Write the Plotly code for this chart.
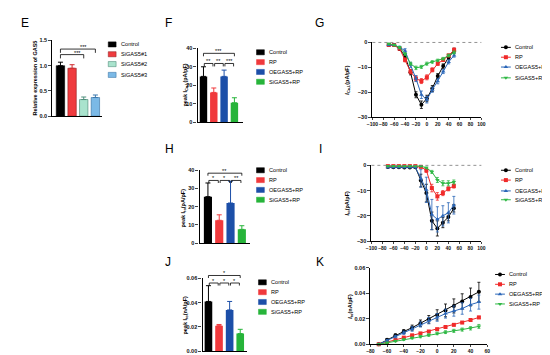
import plotly.graph_objects as go

W, H = 550, 355
FONT = "Liberation Sans, Arial, sans-serif"

# ---------------- data ----------------
groups_E = ["Control", "SiGAS5#1", "SiGAS5#2", "SiGAS5#3"]
expr_E = [1.0, 0.95, 0.33, 0.37]
err_E = [0.07, 0.07, 0.05, 0.05]

groups = ["Control", "RP", "OEGAS5+RP", "SiGAS5+RP"]
peak_F = [24.8, 16.1, 24.8, 10.5]
err_F = [5.2, 2.4, 3.4, 2.7]
peak_H = [25.5, 12.5, 22.0, 7.5]
err_H = [7.5, 3.0, 12.0, 2.0]
peak_J = [0.041, 0.021, 0.034, 0.0145]
err_J = [0.013, 0.001, 0.007, 0.0035]

V = [-70, -60, -50, -40, -30, -20, -10, 0, 10, 20, 30, 40, 50]

G_ctrl = [-1.0, -1.0, -2.6, -5.6, -12.0, -21.0, -25.0, -22.5, -18.5, -13.5, -9.5, -6.0, -3.3]
G_rp = [-1.0, -1.0, -2.5, -7.0, -11.7, -14.5, -15.5, -14.0, -11.0, -8.5, -7.0, -5.2, -3.0]
G_oe = [-1.0, -1.0, -2.0, -3.3, -9.0, -14.5, -21.0, -23.0, -19.0, -15.6, -11.7, -7.8, -5.2]
G_si = [-0.5, -1.0, -2.0, -4.6, -8.5, -10.2, -9.8, -8.5, -7.8, -7.2, -6.5, -5.2, -4.0]
G_ctrl_e = [0.4, 0.4, 0.5, 0.8, 1.0, 1.2, 1.5, 1.3, 1.2, 1.0, 0.9, 0.8, 1.0]
G_rp_e = [0.3, 0.3, 0.4, 0.8, 0.9, 1.0, 1.0, 1.0, 0.8, 0.7, 0.6, 0.5, 0.8]
G_oe_e = [0.3, 0.3, 0.5, 0.8, 1.0, 1.2, 1.5, 1.3, 1.0, 1.0, 0.8, 0.8, 0.7]
G_si_e = [0.3, 0.3, 0.4, 0.5, 0.6, 0.7, 0.6, 0.6, 0.5, 0.5, 0.5, 0.5, 0.6]

I_ctrl = [-0.7, -0.8, -0.8, -0.9, -0.9, -0.8, -6.0, -11.0, -22.0, -25.0, -22.7, -20.5, -17.0]
I_rp = [-0.3, -0.3, -0.3, -0.3, -0.3, -0.3, -0.6, -2.0, -9.0, -12.3, -11.0, -9.3, -8.2]
I_oe = [-0.8, -0.8, -0.8, -0.8, -0.8, -0.8, -5.2, -9.7, -19.5, -21.4, -20.0, -18.8, -15.8]
I_si = [-0.3, -0.3, -0.3, -0.3, -0.3, -0.3, -0.3, -1.0, -2.6, -5.8, -7.1, -7.1, -6.6]
I_ctrl_e = [0.2, 0.2, 0.2, 0.2, 0.2, 0.2, 2.5, 3.5, 3.5, 3.0, 2.0, 1.5, 1.5]
I_rp_e = [0.1, 0.1, 0.1, 0.1, 0.1, 0.1, 0.3, 0.8, 1.5, 1.5, 1.0, 0.8, 0.8]
I_oe_e = [0.2, 0.2, 0.2, 0.2, 0.2, 0.2, 3.5, 5.0, 6.0, 5.0, 4.0, 4.0, 3.5]
I_si_e = [0.1, 0.1, 0.1, 0.1, 0.1, 0.1, 0.1, 0.3, 0.6, 1.0, 1.0, 1.0, 0.8]

K_ctrl = [0.0, 0.0035, 0.007, 0.010, 0.013, 0.0165, 0.0195, 0.023, 0.0265, 0.030, 0.0335, 0.037, 0.041]
K_rp = [0.0, 0.0017, 0.0035, 0.0052, 0.007, 0.0085, 0.010, 0.0118, 0.0135, 0.0152, 0.017, 0.019, 0.021]
K_oe = [0.0, 0.003, 0.006, 0.009, 0.012, 0.0155, 0.0185, 0.021, 0.024, 0.026, 0.028, 0.031, 0.033]
K_si = [0.0, 0.0012, 0.0025, 0.0037, 0.005, 0.006, 0.0072, 0.0085, 0.0095, 0.0105, 0.0115, 0.0125, 0.014]
K_ctrl_e = [0.0005, 0.0008, 0.001, 0.0015, 0.002, 0.0025, 0.003, 0.004, 0.005, 0.0055, 0.006, 0.007, 0.0075]
K_rp_e = [0.0003, 0.0004, 0.0005, 0.0005, 0.0006, 0.0006, 0.0006, 0.0007, 0.0007, 0.0007, 0.0008, 0.0008, 0.0009]
K_oe_e = [0.0005, 0.0007, 0.001, 0.0013, 0.0018, 0.002, 0.0025, 0.003, 0.0035, 0.004, 0.0045, 0.005, 0.0055]
K_si_e = [0.0003, 0.0005, 0.0006, 0.0007, 0.0008, 0.0009, 0.001, 0.001, 0.0011, 0.0012, 0.0012, 0.0013, 0.0015]

sig_E = [(0, 2, 1.22, "***"), (0, 3, 1.33, "***")]
sig_F = [(0, 3, 37.3, "***"), (0, 1, 31.8, "**"), (1, 2, 31.8, "**"), (2, 3, 31.8, "***")]
sig_H = [(0, 3, 38.4, "**"), (0, 1, 34.4, "*"), (1, 2, 34.4, "*"), (2, 3, 34.4, "**")]
sig_J = [(0, 3, 0.0624, "*"), (0, 1, 0.0562, "*"), (1, 2, 0.0562, "*"), (2, 3, 0.0562, "*")]

colors_E = ["#000000", "#ef3b3e", "#a9e3cd", "#7bb9e6"]
err_col_E = ["#000000", "#d02a2e", "#4f8f7c", "#3b78ad"]
outline_E = ["#000000", "#8a1c1e", "#3f7f6c", "#2f6a9c"]
colors_bar = ["#000000", "#f0393c", "#1c4fa8", "#27b43a"]
colors_line = ["#000000", "#f02a2a", "#2a66b8", "#2fb845"]
symbols = ["circle", "square", "triangle-up", "triangle-down"]

# ---------------- panel geometry (pixels) ----------------
P = {
    "E": (1, 39, 90, 30, 107, [-0.7, 3.6], [0, 1.5]),
    "F": (2, 187, 233, 38, 113, [-0.57, 3.81], [0, 40]),
    "G": (3, 365, 476, 32, 108, [-100, 100], [-30, 0]),
    "H": (4, 189, 240, 162, 236, [-0.74, 3.69], [0, 40]),
    "I": (5, 364, 476, 157, 234, [-100, 100], [-30, 0]),
    "J": (6, 192, 237, 272, 346, [-0.56, 3.61], [0, 0.06]),
    "K": (7, 363, 482, 261, 339, [-80, 60], [0, 0.06]),
}


def px_x(p, xv):
    _, a, b, _, _, xr, _ = P[p]
    return (a + (xv - xr[0]) / (xr[1] - xr[0]) * (b - a)) / W


def px_y(p, yv):
    _, _, _, t, bt, _, yr = P[p]
    return 1 - (bt - (yv - yr[0]) / (yr[1] - yr[0]) * (bt - t)) / H


fig = go.Figure()
layout = dict(width=W, height=H, margin=dict(l=0, r=0, t=0, b=0),
              paper_bgcolor="white", plot_bgcolor="rgba(0,0,0,0)",
              showlegend=False, font=dict(family=FONT, size=6, color="#000"))
shapes, annos = [], []

TICKF = dict(family=FONT, size=5.5, color="#111", weight="bold")
TICKX = dict(family=FONT, size=5, color="#111", weight="bold")

for name, (k, a, b, t, bt, xr, yr) in P.items():
    xa = dict(domain=[a / W, b / W], range=xr, showgrid=False, zeroline=False,
              showline=True, linecolor="#000", anchor="y%d" % k, fixedrange=True, tickangle=0)
    ya = dict(domain=[1 - bt / H, 1 - t / H], range=yr, showgrid=False, zeroline=False,
              showline=True, linecolor="#000", anchor="x%d" % k, ticks="outside",
              ticklen=3, tickwidth=1, tickfont=TICKF, fixedrange=True, tickangle=0)
    if name in ("E", "F", "H", "J"):
        xa.update(type="category", showticklabels=False, ticks="", linewidth=1.3)
        ya.update(linewidth=1.3)
    else:
        xa.update(ticks="outside", ticklen=2, tickwidth=1, tickfont=TICKX, linewidth=1.1)
        ya.update(linewidth=1.1)
    layout["xaxis%d" % k if k > 1 else "xaxis"] = xa
    layout["yaxis%d" % k if k > 1 else "yaxis"] = ya

layout["yaxis"].update(tickvals=[0, 0.5, 1.0, 1.5], tickformat=".1f")
layout["yaxis2"].update(tickvals=[0, 10, 20, 30, 40])
layout["yaxis4"].update(tickvals=[0, 10, 20, 30, 40])
layout["yaxis6"].update(tickvals=[0, 0.02, 0.04, 0.06], tickformat=".2f")
layout["xaxis3"].update(tickvals=list(range(-100, 101, 20)))
layout["xaxis5"].update(tickvals=list(range(-100, 101, 20)))
layout["yaxis3"].update(tickvals=[0, -10, -20, -30])
layout["yaxis5"].update(tickvals=[0, -10, -20, -30])
layout["xaxis7"].update(tickvals=list(range(-80, 61, 20)))
layout["yaxis7"].update(tickvals=[0, 0.02, 0.04, 0.06], tickformat=".2f")


# ---------------- bars ----------------
def add_bars(k, cats, vals, errs, cols, ecols, outline):
    for i in range(4):
        fig.add_trace(go.Bar(
            x=[cats[i]], y=[vals[i]], width=0.72, xaxis="x%d" % k if k > 1 else "x",
            yaxis="y%d" % k if k > 1 else "y",
            marker=dict(color=cols[i], line=dict(color=outline[i] or cols[i], width=0.6 if outline[i] else 0)),
            error_y=dict(type="data", array=[errs[i]], arrayminus=[0], symmetric=False,
                         color=ecols[i], thickness=1, width=2.5),
            cliponaxis=False, hoverinfo="skip"))


add_bars(1, groups_E, expr_E, err_E, colors_E, err_col_E, outline_E)
add_bars(2, groups, peak_F, err_F, colors_bar, colors_bar, [None] * 4)
add_bars(4, groups, peak_H, err_H, colors_bar, colors_bar, [None] * 4)
add_bars(6, groups, peak_J, err_J, colors_bar, colors_bar, [None] * 4)


# ---------------- lines ----------------
def add_lines(k, ys, es):
    for i in range(4):
        fig.add_trace(go.Scatter(
            x=V, y=ys[i], mode="lines+markers", xaxis="x%d" % k, yaxis="y%d" % k,
            line=dict(color=colors_line[i], width=1),
            marker=dict(symbol=symbols[i], size=4, color=colors_line[i]),
            error_y=dict(type="data", array=es[i], color=colors_line[i], thickness=0.8, width=1.5),
            cliponaxis=False, hoverinfo="skip"))


add_lines(3, [G_ctrl, G_rp, G_oe, G_si], [G_ctrl_e, G_rp_e, G_oe_e, G_si_e])
add_lines(5, [I_ctrl, I_rp, I_oe, I_si], [I_ctrl_e, I_rp_e, I_oe_e, I_si_e])
add_lines(7, [K_ctrl, K_rp, K_oe, K_si], [K_ctrl_e, K_rp_e, K_oe_e, K_si_e])

# zero dotted lines for G and I
for k in (3, 5):
    shapes.append(dict(type="line", xref="x%d domain" % k, yref="y%d domain" % k,
                       x0=0, x1=1, y0=1, y1=1, line=dict(color="#777", width=0.8, dash="dot")))


# ---------------- significance brackets ----------------
def add_sig(p, sig, drop):
    yr = P[p][6]
    d = drop * (yr[1] - yr[0])
    for (i, j, y, txt) in sig:
        inset = 0.08 if j - i == 1 else 0.0
        x0, x1 = px_x(p, i + inset), px_x(p, j - inset)
        yy, yd = px_y(p, y), px_y(p, y - d)
        shapes.append(dict(type="path", xref="paper", yref="paper",
                           path="M%f,%f L%f,%f L%f,%f L%f,%f" % (x0, yd, x0, yy, x1, yy, x1, yd),
                           line=dict(color="#000", width=0.8)))
        annos.append(dict(x=(x0 + x1) / 2, y=yy, xref="paper", yref="paper", text=txt,
                          showarrow=False, yanchor="bottom", yshift=-3,
                          font=dict(family=FONT, size=5.5, color="#000")))


add_sig("E", sig_E, 0.05)
add_sig("F", sig_F, 0.04)
add_sig("H", sig_H, 0.035)
add_sig("J", sig_J, 0.035)


# ---------------- manual legends ----------------
def bar_legend(x0, rows, labels, cols, outline=None):
    for i, (lab, c) in enumerate(zip(labels, cols)):
        yc = rows[i]
        shapes.append(dict(type="rect", xref="paper", yref="paper",
                           x0=x0 / W, x1=(x0 + 8) / W, y0=1 - (yc + 2.6) / H, y1=1 - (yc - 2.6) / H,
                           fillcolor=c, line=dict(color=(outline[i] if outline else c), width=0.5)))
        annos.append(dict(x=(x0 + 10.5) / W, y=1 - yc / H, xref="paper", yref="paper", text=lab,
                          showarrow=False, xanchor="left", yanchor="middle",
                          font=dict(family=FONT, size=5.6, color="#000")))


bar_legend(96, [34, 44, 54, 65], groups_E, colors_E, outline_E)
bar_legend(247, [42, 52, 62, 72], groups, colors_bar)
bar_legend(247, [162, 172, 182, 192], groups, colors_bar)
bar_legend(249, [276, 286, 296, 306], groups, colors_bar)

# overlay pixel axis for line-legend icons
layout["xaxis8"] = dict(domain=[0, 1], range=[0, W], visible=False, anchor="y8", fixedrange=True)
layout["yaxis8"] = dict(domain=[0, 1], range=[H, 0], visible=False, anchor="x8", fixedrange=True)


def line_legend(x0, rows, labels):
    for i, lab in enumerate(labels):
        yc = rows[i]
        fig.add_trace(go.Scatter(
            x=[x0, x0 + 10], y=[yc, yc], xaxis="x8", yaxis="y8",
            mode="lines", line=dict(color=colors_line[i], width=1),
            hoverinfo="skip", cliponaxis=False))
        fig.add_trace(go.Scatter(
            x=[x0 + 5], y=[yc], xaxis="x8", yaxis="y8", mode="markers",
            marker=dict(symbol=symbols[i], size=4, color=colors_line[i]),
            hoverinfo="skip", cliponaxis=False))
        annos.append(dict(x=(x0 + 12) / W, y=1 - yc / H, xref="paper", yref="paper", text=lab,
                          showarrow=False, xanchor="left", yanchor="middle",
                          font=dict(family=FONT, size=5.6, color="#000")))


line_legend(496, [37, 47, 57, 68], groups)
line_legend(496, [162, 172, 183, 192], groups)
line_legend(490, [268, 278, 288, 298], groups)

# ---------------- titles ----------------
ytitles = [
    (21, 68, "<b>Relative expression of GAS5</b>"),
    (175, 75, "<b>peak I<sub>Ca,L</sub>(pA/pF)</b>"),
    (340, 70, "<b><i>I</i><sub>Ca,L</sub>(pA/pF)</b>"),
    (173, 200, "<b>peak I<sub>to</sub>(pA/pF)</b>"),
    (340, 195, "<b><i>I</i><sub>to</sub>(pA/pF)</b>"),
    (175, 309, "<b>peak I<sub>to</sub>(nA/pF)</b>"),
    (343, 300, "<b><i>I</i><sub>to</sub>(nA/pF)</b>"),
]
for x, y, txt in ytitles:
    annos.append(dict(x=x / W, y=1 - y / H, xref="paper", yref="paper", text=txt, textangle=-90,
                      showarrow=False, xanchor="center", yanchor="middle",
                      font=dict(family=FONT, size=5.5, color="#000")))

panel_labels = [("E", 5, 12), ("F", 152, 12), ("G", 305, 12), ("H", 152, 140),
                ("I", 309, 140), ("J", 152, 255), ("K", 306, 255)]
for lab, x, y in panel_labels:
    annos.append(dict(x=x / W, y=1 - y / H, xref="paper", yref="paper", text=lab,
                      showarrow=False, xanchor="left", yanchor="middle",
                      font=dict(family=FONT, size=12, color="#000")))

layout["shapes"] = shapes
layout["annotations"] = annos
fig.update_layout(**layout)
fig.write_html("out.html")
